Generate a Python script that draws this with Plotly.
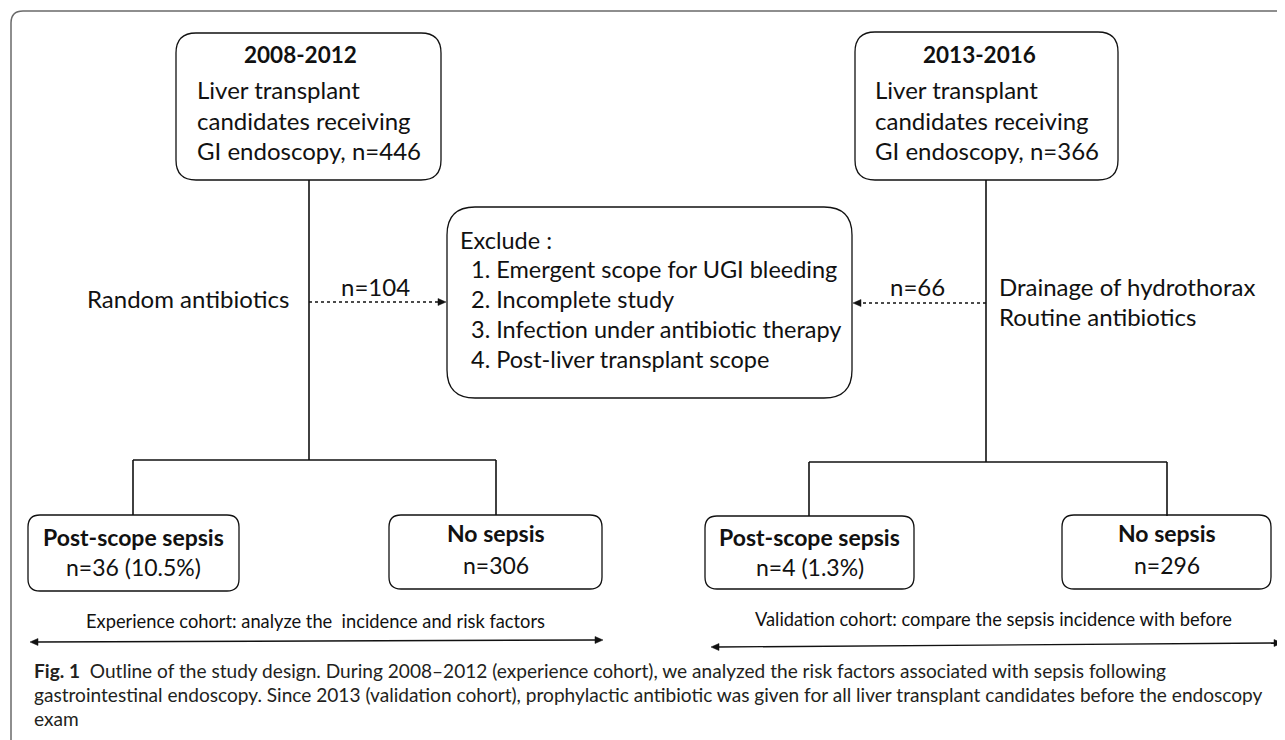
import plotly.graph_objects as go

# ---------------- data (text & numbers of the flowchart) ----------------
periods = ["2008-2012", "2013-2016"]
cohort_desc = ["Liver transplant", "candidates receiving", "GI endoscopy, n={}"]
n_total = [446, 366]
n_excluded = [104, 66]
arm_labels = [["Random antibiotics"], ["Drainage of hydrothorax", "Routine antibiotics"]]
exclude_title = "Exclude :"
exclude_reasons = ["1. Emergent scope for UGI bleeding", "2. Incomplete study",
                   "3. Infection under antibiotic therapy", "4. Post-liver transplant scope"]
outcome_labels = ["Post-scope sepsis", "No sepsis"]
sepsis_n = [36, 4]
sepsis_pct = [10.5, 1.3]
no_sepsis_n = [306, 296]
cohort_notes = ["Experience cohort: analyze the \u00a0incidence and risk factors",
                "Validation cohort: compare the sepsis incidence with before"]
caption_lines = [
    "<b>Fig. 1</b>\u00a0 Outline of the study design. During 2008\u20132012 (experience cohort), we analyzed the risk factors associated with sepsis following",
    "gastrointestinal endoscopy. Since 2013 (validation cohort), prophylactic antibiotic was given for all liver transplant candidates before the endoscopy",
    "exam",
]

# ---------------- layout geometry ----------------
W, H = 1285, 740
OFF = 8  # page body margin in the browser
FONT = "Lato"
TXT = "#111111"
shapes = []
annotations = []


def rrect(x0, y0, x1, y1, r, color="#111111", width=1.3):
    p = (f"M {x0+r},{y0} L {x1-r},{y0} Q {x1},{y0} {x1},{y0+r} L {x1},{y1-r} "
         f"Q {x1},{y1} {x1-r},{y1} L {x0+r},{y1} Q {x0},{y1} {x0},{y1-r} "
         f"L {x0},{y0+r} Q {x0},{y0} {x0+r},{y0} Z")
    shapes.append(dict(type="path", path=p, xref="x", yref="y",
                       line=dict(color=color, width=width), fillcolor="rgba(0,0,0,0)"))


def line(x0, y0, x1, y1, dash="solid", width=1.6, color="#111111"):
    shapes.append(dict(type="line", x0=x0, y0=y0, x1=x1, y1=y1, xref="x", yref="y",
                       line=dict(color=color, width=width, dash=dash)))


def head(xt, yt, direction, L=8, hw=3.5, color="#111111"):
    xb = xt - direction * L
    p = f"M {xt},{yt} L {xb},{yt-hw} L {xb},{yt+hw} Z"
    shapes.append(dict(type="path", path=p, xref="x", yref="y",
                       line=dict(color=color, width=0.5), fillcolor=color))


def text(x, y, s, size=24, anchor="left", bold=False, color=TXT, family=FONT):
    if bold:
        s = f"<b>{s}</b>"
    annotations.append(dict(x=x, y=y, xref="x", yref="y", text=s, showarrow=False,
                            xanchor=anchor, yanchor="middle",
                            font=dict(family=family, size=size, color=color)))


# outer frame (open to right / bottom)
shapes.append(dict(type="path", xref="x", yref="y",
                   path="M 11,760 L 11,23 Q 11,11 23,11 L 1300,11",
                   line=dict(color="#6a6a6a", width=1.5)))

# top boxes
top_boxes = [(176, 33, 441, 180), (855, 32, 1118, 180)]
title_x = [300, 979]
desc_x = [195, 873]
desc_y = [89, 120, 150]
for i in range(2):
    rrect(*top_boxes[i], 20)
    text(title_x[i], 54, periods[i], size=22.5, anchor="center", bold=True)
    for j, s in enumerate(cohort_desc):
        text(desc_x[i], desc_y[j], s.format(n_total[i]) if "{}" in s else s, size=24)

# trunks & branches
trunk_x = [309, 986]
branch_y = [460, 462]
branch_x = [(133, 496), (809, 1167)]
bottom_top = [515, 516]
for i in range(2):
    line(trunk_x[i], 180, trunk_x[i], branch_y[i])
    line(branch_x[i][0], branch_y[i], branch_x[i][1], branch_y[i])
    for bx in branch_x[i]:
        line(bx, branch_y[i], bx, bottom_top[i])

# exclusion box
rrect(447, 207, 852, 398, 28)
text(458, 240, exclude_title, size=23.5)
for j, s in enumerate(exclude_reasons):
    text(469, 269 + 30 * j, s, size=23.5)

# dashed exclusion arrows
line(309, 302, 439, 302, dash="3px,3px", width=1.3)
head(446, 302, +1)
line(986, 303, 860, 303, dash="3px,3px", width=1.3)
head(853, 303, -1)
text(375, 286, f"n={n_excluded[0]}", size=24, anchor="center")
text(917, 286, f"n={n_excluded[1]}", size=24, anchor="center")

# arm labels
text(291, 298, arm_labels[0][0], size=24, anchor="right")
text(997, 286, arm_labels[1][0], size=24)
text(997, 316, arm_labels[1][1], size=24)

# outcome boxes
out_boxes = [[(28, 515, 239, 591), (389, 515, 602, 589)],
             [(705, 516, 914, 589), (1062, 515, 1271, 589)]]
for i in range(2):
    for k in range(2):
        x0, y0, x1, y1 = out_boxes[i][k]
        rrect(x0, y0, x1, y1, 12)
        cx = (x0 + x1) / 2
        if k == 0:
            text(cx, 537, outcome_labels[0], size=23, anchor="center", bold=True)
            text(cx, 567, f"n={sepsis_n[i]} ({sepsis_pct[i]}%)", size=23, anchor="center")
        else:
            text(cx, 533, outcome_labels[1], size=23, anchor="center", bold=True)
            text(cx, 565, f"n={no_sepsis_n[i]}", size=23, anchor="center")

# cohort span arrows
text(315, 621, cohort_notes[0], size=18.3, anchor="center")
line(36, 642, 597, 640, width=1.4)
head(30, 642, -1)
head(603, 640, +1)
text(993, 619, cohort_notes[1], size=18.3, anchor="center")
line(717, 647, 1275, 643, width=1.4)
head(711, 647, -1)
head(1282, 643, +1)

# caption
for j, s in enumerate(caption_lines):
    text(32, 670 + 24 * j, s, size=19.1, color="#231f20")

fig = go.Figure()
fig.update_layout(
    width=W, height=H, margin=dict(l=0, r=0, t=0, b=0),
    paper_bgcolor="white", plot_bgcolor="white",
    xaxis=dict(range=[OFF, W + OFF], visible=False, fixedrange=True),
    yaxis=dict(range=[H + OFF, OFF], visible=False, fixedrange=True),
    shapes=shapes, annotations=annotations, showlegend=False,
)
fig.write_html("out.html")
